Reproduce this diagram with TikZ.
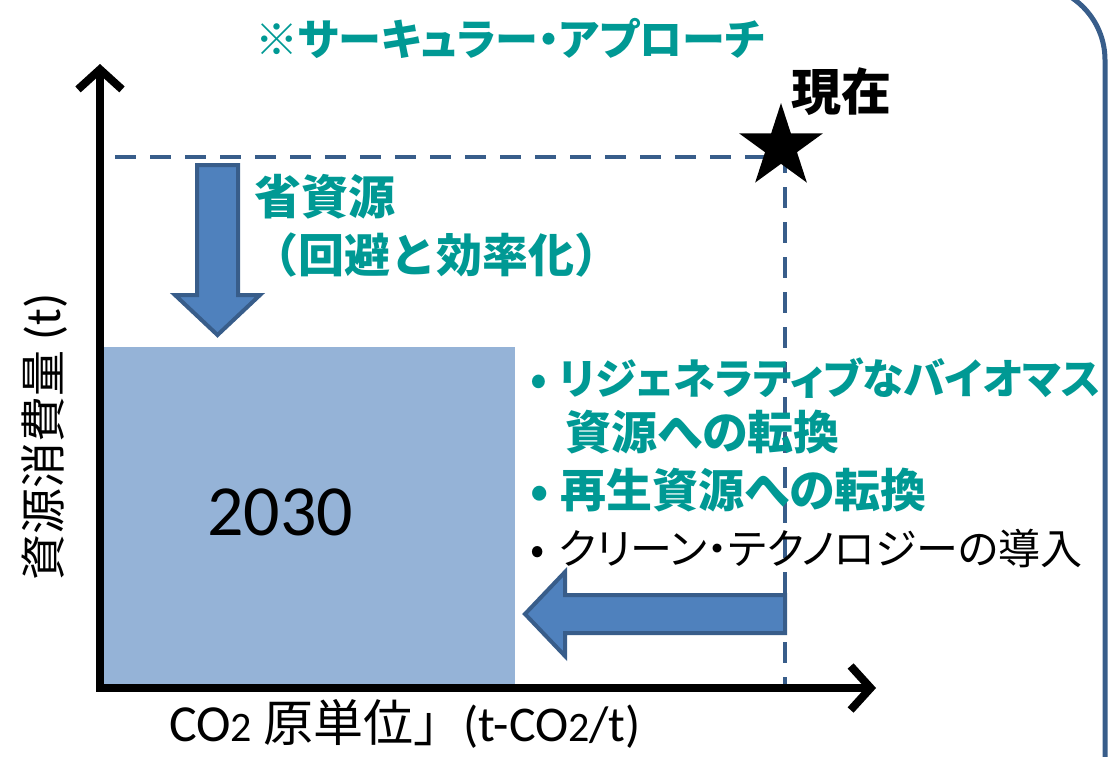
\documentclass[tikz,border=0pt]{standalone}
\usepackage{fontspec}
\usepackage{xcolor}
\usepackage{tikz}
\usetikzlibrary{arrows.meta,shapes.geometric}
\newfontfamily\jpfont[RawFeature=+palt]{Noto Sans CJK JP}
\newfontfamily\jpfull{Noto Sans CJK JP}
\newfontfamily\latfont{Carlito}
\definecolor{tealtxt}{RGB}{0,153,148}
\definecolor{arrfill}{RGB}{79,129,189}
\definecolor{arrline}{RGB}{56,93,138}
\definecolor{boxfill}{RGB}{149,179,215}
\begin{document}
\begin{tikzpicture}[x=1pt,y=-1pt,
		tealtext/.style={font=\jpfont\bfseries\fontsize{46}{50}\selectfont, text=tealtxt, inner sep=0pt, anchor=west},
		blacktext/.style={font=\jpfont\fontsize{42}{46}\selectfont, text=black, inner sep=0pt, anchor=west},
		blockarrow/.style={fill=arrfill, draw=arrline, line width=4pt, line join=miter},
		guide/.style={draw=arrline, line width=4pt, dash pattern=on 21pt off 14pt}]
			\useasboundingbox (0,0) rectangle (1110,756);
			% khung bo tron
			\begin{scope}
			\clip (0,0) rectangle (1110,756);
			\draw[arrline, line width=5pt, rounded corners=75pt] (-100,-15) rectangle (1105,900);
			\end{scope}
			% vung 2030
			\fill[boxfill] (104,347) rectangle (515,684);
			\node[font=\latfont\fontsize{72}{76}\selectfont, inner sep=0pt] (nam) at (280,512) {2030};
			% duong gach
			\coordinate (hientai) at (785,157);
			\coordinate (gy) at (115,157);
			\coordinate (gx) at (785,688);
			\draw[guide] (gy) -- (hientai) -- (gx);
			% mui ten lon
			\draw[blockarrow] (197,165) -- (238,165) -- (238,295) -- (260,295) -- (217.5,335) -- (175,295) -- (197,295) -- cycle;
			\draw[blockarrow] (785,595) -- (565,595) -- (565,572) -- (525,614) -- (565,656) -- (565,633) -- (785,633) -- cycle;
			% ve truc
			\coordinate (ytop) at (100,64);
			\coordinate (O) at (100,688);
			\coordinate (xend) at (876,688);
			\draw[line width=8pt, line join=miter, {Straight Barb[length=20pt,width=44pt]}-{Straight Barb[length=20pt,width=44pt]}] (ytop) -- (O) -- (xend);
			% ngoi sao
			\node[star, star points=5, star point ratio=2.618, fill=black, minimum size=88pt, inner sep=0pt] (sao) at (781,147) {};
			\node[font=\jpfont\bfseries\fontsize{50}{54}\selectfont, inner sep=0pt] (nhan) at (841,92) {現在};
			% chu
			\node[font=\jpfont\bfseries\fontsize{43}{46}\selectfont, text=tealtxt, inner sep=0pt] (tieude) at (510,38) {※サーキュラー・アプローチ};
			\node[tealtext, font=\jpfull\bfseries\fontsize{47}{50}\selectfont] (tk1) at (254,197) {省資源};
			\node[tealtext, font=\jpfull\bfseries\fontsize{46}{50}\selectfont] (tk2) at (252,255) {（回避と効率化）};
			\node[tealtext, font=\jpfont\bfseries\fontsize{42}{46}\selectfont] (b1) at (530,378) {•\hspace{12pt}リジェネラティブなバイオマス};
			\node[tealtext] (b2) at (565,432) {資源への転換};
			\node[tealtext] (b3) at (530,490) {•\hspace{12pt}再生資源への転換};
			\node[blacktext] (b4) at (530,548) {•\hspace{14pt}クリーン・テクノロジーの導入};
			% nhan truc
			\node[font=\jpfont\fontsize{46}{50}\selectfont, rotate=90, inner sep=0pt] (ylab) at (45,437) {資源消費量 {\latfont\fontsize{50}{54}\selectfont(t)}};
			\node[font=\jpfont\fontsize{50}{54}\selectfont, inner sep=0pt] (xlab) at (405,724) {{\latfont\fontsize{52}{56}\selectfont CO{\fontsize{42}{46}\selectfont 2}} 原単位{\jpfull 」}{\latfont\fontsize{50}{54}\selectfont(t-CO{\fontsize{42}{46}\selectfont 2}/t)}};
		\end{tikzpicture}
\end{document}
